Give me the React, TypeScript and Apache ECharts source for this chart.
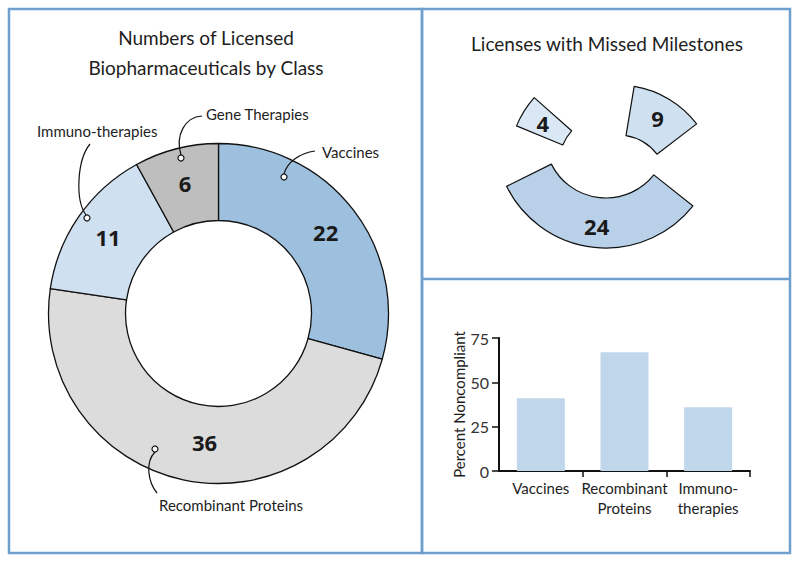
import React, { useEffect, useRef } from "react";
import * as echarts from "echarts";

const donutCategories = ["Vaccines", "Recombinant Proteins", "Immuno-therapies", "Gene Therapies"];
const donutValues = [22, 36, 11, 6];
const donutColors = ["#9dc0de", "#dcdcdd", "#cfe0f0", "#bebebe"];

const missedCategories = ["Immuno-therapies", "Vaccines", "Recombinant Proteins"];
const missedValues = [4, 9, 24];
const missedColors = ["#dae8f5", "#cfe1f1", "#b8d1e8"];

const barCategories = ["Vaccines", "Recombinant\nProteins", "Immuno-\ntherapies"];
const barValues = [41, 67, 36];
const yMax = 75;
const yInterval = 25;

const FONT = "Lato";
const NUMFONT = "'Open Sans'";

export default function App() {
  const ref = useRef<HTMLDivElement>(null);
  useEffect(() => {
    if (!ref.current) return;
    const chart = echarts.init(ref.current, null, { renderer: "svg" });
    const donutTotal = donutValues.reduce((a, b) => a + b, 0);
    const degPerUnit = 360 / donutTotal;

    // layout of each missed sector: center, radii, mid angle
    const missedLayout = [
      { center: [609, 164], radius: [50, 100], mid: 148 },
      { center: [618, 184], radius: [49, 99], mid: 59 },
      { center: [606, 137], radius: [61, 111], mid: 264 },
    ];

    const missedSeries = missedValues.map((v, i) => {
      const L = missedLayout[i];
      return {
        type: "pie",
        silent: true,
        center: L.center,
        radius: L.radius,
        startAngle: L.mid + (v * degPerUnit) / 2,
        clockwise: true,
        avoidLabelOverlap: false,
        emphasis: { disabled: true },
        labelLine: { show: false },
        data: [
          {
            name: missedCategories[i],
            value: v,
            itemStyle: { color: missedColors[i], borderColor: "#111", borderWidth: 1.2 },
            label: {
              show: true,
              position: "inside",
              formatter: "{c}",
              fontSize: 22,
              fontWeight: "bold",
              fontFamily: NUMFONT,
              color: "#1a1a1a",
            },
          },
          {
            name: "rest",
            value: donutTotal - v,
            itemStyle: { color: "rgba(0,0,0,0)", borderWidth: 0 },
            label: { show: false },
          },
        ],
      };
    });

    const lineStyle = { stroke: "#111", lineWidth: 1.2, fill: "none" };
    const dot = (cx: number, cy: number) => ({
      type: "circle",
      z: 100,
      shape: { cx, cy, r: 3 },
      style: { fill: "#fff", stroke: "#111", lineWidth: 1.2 },
    });
    const curve = (x1: number, y1: number, cpx1: number, cpy1: number, cpx2: number, cpy2: number, x2: number, y2: number) => ({
      type: "bezierCurve",
      z: 99,
      shape: { x1, y1, cpx1, cpy1, cpx2, cpy2, x2, y2 },
      style: lineStyle,
    });
    const txt = (text: string, x: number, y: number, size: number, align = "left") => ({
      type: "text",
      z: 100,
      x,
      y,
      style: { text, fontSize: size, fontFamily: FONT, fill: "#1e1e1e", align, verticalAlign: "middle" },
    });

    const option: any = {
      animation: false,
      graphic: [
        { type: "rect", shape: { x: 9, y: 9, width: 413, height: 544 }, style: { fill: "none", stroke: "#6f9fcd", lineWidth: 2.5 } },
        { type: "rect", shape: { x: 422, y: 9, width: 368, height: 544 }, style: { fill: "none", stroke: "#6f9fcd", lineWidth: 2.5 } },
        { type: "line", shape: { x1: 422, y1: 279, x2: 790, y2: 279 }, style: { stroke: "#6f9fcd", lineWidth: 2.5 } },
        txt("Numbers of Licensed", 206, 37, 19, "center"),
        txt("Biopharmaceuticals by Class", 206, 67, 19, "center"),
        txt("Licenses with Missed Milestones", 607, 43, 19, "center"),
        txt("Vaccines", 322, 152, 15),
        curve(315, 151, 300, 153, 287, 162, 284, 174),
        dot(284, 177),
        txt("Gene Therapies", 206, 114, 15),
        curve(202, 116, 185, 117, 175, 135, 181, 155),
        dot(181, 158),
        txt("Immuno-therapies", 37, 131, 15),
        curve(90, 144, 77, 160, 75, 200, 86, 215),
        dot(87, 218),
        txt("Recombinant Proteins", 159, 505, 15),
        curve(155, 452, 145, 462, 148, 482, 157, 493),
        dot(155, 449),
      ],
      grid: { left: 499, right: 50, top: 338, bottom: 92, containLabel: false },
      xAxis: {
        type: "category",
        data: barCategories,
        axisLine: { lineStyle: { color: "#111", width: 2 } },
        axisTick: {
          show: true,
          length: 6,
          interval: (i: number) => i > 0,
          lineStyle: { color: "#111", width: 1.5 },
        },
        axisLabel: { interval: 0, fontSize: 15, lineHeight: 20, color: "#1e1e1e", fontFamily: FONT, margin: 7 },
      },
      yAxis: {
        type: "value",
        min: 0,
        max: yMax,
        interval: yInterval,
        name: "Percent Noncompliant",
        nameLocation: "middle",
        nameGap: 32,
        nameTextStyle: { fontSize: 15, color: "#1e1e1e", fontFamily: FONT },
        axisLine: { show: true, lineStyle: { color: "#111", width: 2 } },
        axisTick: { show: true, length: 7, lineStyle: { color: "#111", width: 1.5 } },
        axisLabel: { fontSize: 16, color: "#333", fontFamily: FONT, margin: 10 },
        splitLine: { show: false },
      },
      series: [
        {
          type: "bar",
          data: barValues,
          barWidth: 48,
          itemStyle: { color: "#c0d6ea" },
          silent: true,
        },
        {
          type: "pie",
          silent: true,
          center: [218.5, 313.5],
          radius: [93, 170],
          startAngle: 90,
          clockwise: true,
          avoidLabelOverlap: false,
          emphasis: { disabled: true },
          labelLine: { show: false },
          label: {
            show: true,
            position: "inside",
            formatter: "{c}",
            fontSize: 22,
            fontWeight: "bold",
            fontFamily: NUMFONT,
            color: "#1a1a1a",
          },
          itemStyle: { borderColor: "#111", borderWidth: 1.3 },
          data: donutValues.map((v, i) => ({
            name: donutCategories[i],
            value: v,
            itemStyle: { color: donutColors[i] },
            ...(i === 1 ? { label: { offset: [14, -3] } } : {}),
          })),
        },
        ...missedSeries,
      ],
    };
    chart.setOption(option);
    return () => chart.dispose();
  }, []);
  return (
    <div
      ref={ref}
      style={{ position: "fixed", left: 0, top: 0, width: 800, height: 563, background: "#fff" }}
    />
  );
}
